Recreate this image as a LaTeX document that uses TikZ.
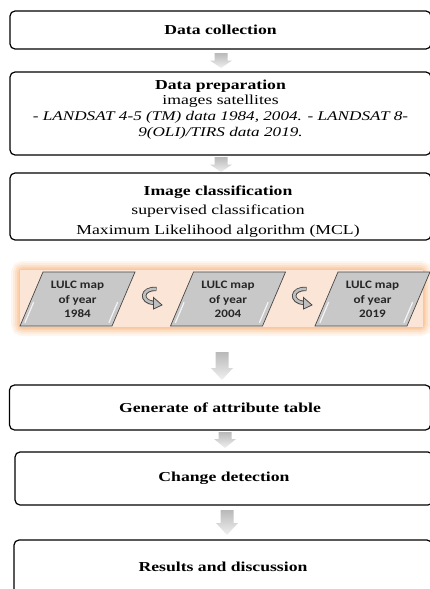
\documentclass[tikz,border=0pt]{standalone}
\usepackage{fontspec}
\setmainfont[FakeStretch=1.29]{Liberation Serif}
\newfontfamily\mapfont[FakeStretch=1.15]{Carlito}
\usepackage{tikz}

\definecolor{panelfill}{RGB}{251,229,214}
\definecolor{glow}{RGB}{247,150,70}
\definecolor{mapgray}{RGB}{200,200,200}
\definecolor{mapedge}{RGB}{70,70,70}

\tikzset{
  stepbox/.style={draw, line width=1.2pt, rounded corners=5pt, inner sep=0pt,
    minimum width=421pt, font=\fontsize{13.7}{15.5}\selectfont\bfseries},
  steptext/.style={align=center, inner sep=0pt, anchor=base},
  maptext/.style={align=center, inner sep=0pt, text=black!85,
    font=\mapfont\fontsize{11.4}{14.6}\selectfont\bfseries},
}

% grey block arrow: x, top, start of head, tip
\newcommand{\blockarrow}[4]{%
  \shade[top color=gray!55, bottom color=gray!12]
    (#1-6.5,#2) -- (#1+6.5,#2) -- (#1+6.5,#3) -- (#1+11,#3) -- (#1,#4)
    -- (#1-11,#3) -- (#1-6.5,#3) -- cycle;}

\begin{document}
\begin{tikzpicture}[x=1pt, y=-1pt]
  \useasboundingbox (0,0) rectangle (430,589);
  \clip (0,0) rectangle (430,589);

  % Data collection
  \node[stepbox, minimum height=38pt] (collect) at (220.5,30) {Data collection};
  \blockarrow{221}{53}{60.5}{68}

  % Data preparation
  \node[stepbox, minimum height=83pt] (prep) at (220.5,113.5) {};
  \node[steptext, font=\fontsize{13.7}{15.6}\selectfont] (preptext) at (220.5,136)
    {\textbf{Data preparation}\\ images satellites\\
     {\fontsize{13.3}{15.6}\selectfont\itshape - LANDSAT 4-5 (TM) data 1984, 2004. - LANDSAT 8-}\\
     {\fontsize{13.3}{15.6}\selectfont\itshape 9(OLI)/TIRS data 2019.}};
  \blockarrow{221}{157}{164.5}{172}

  % Image classification
  \node[stepbox, minimum height=67pt] (classif) at (220.5,206.5) {};
  \node[steptext, font=\fontsize{13.7}{19.5}\selectfont] (classiftext) at (218,234)
    {\textbf{Image classification}\\ supervised classification\\
     Maximum Likelihood algorithm (MCL)};

  % LULC maps
  \foreach \w/\o in {18/0.09, 14/0.11, 10/0.14, 6/0.17, 3/0.2}
    \draw[glow, line width=\w pt, opacity=\o, rounded corners=3pt] (20,270) rectangle (423,327);
  \fill[panelfill] (20,270) rectangle (423,327);
  \foreach \cx/\yr [count=\i] in {77.5/1984, 228/2004, 372.5/2019} {
    \begin{scope}[shift={(\cx,299)}]
      \filldraw[fill=mapgray, draw=mapedge, line width=0.7pt]
        (-57.5,27) -- (34.5,27) -- (57.5,-27) -- (-34.5,-27) -- cycle;
      \draw[white, line width=1.2pt, line cap=round, opacity=0.8] (-52.5,23.5) -- (-44,3.5);
      \draw[white, line width=1.2pt, line cap=round, opacity=0.8] (31.5,23.5) -- (40,3.5);
      \node[maptext] (map\i) at (0,0.5) {LULC map\\of year\\\yr};
    \end{scope}
  }
  \foreach \cx [count=\i] in {152,302} {
    \begin{scope}[shift={(\cx,297)}]
      \draw[mapedge, line width=4.4pt] (4.5,-8) .. controls (-11,-9) and (-12,5) .. (2,6);
      \draw[gray!50, line width=2.6pt] (4,-8) .. controls (-11,-9) and (-12,5) .. (2.5,6);
      \filldraw[fill=gray!50, draw=mapedge, line width=0.8pt] (1.5,0.5) -- (10,8) -- (1.5,12) -- cycle;
    \end{scope}
  }
  \blockarrow{222}{352}{368}{380}

  % Generate of attribute table
  \node[stepbox, minimum height=45pt] (attrib) at (220,407.5) {Generate of attribute table};
  \blockarrow{225}{432}{439}{448}

  % Change detection
  \node[stepbox, minimum height=53pt, minimum width=418pt] (change) at (224,478.5) {Change detection};
  \blockarrow{227}{510}{523}{535}

  % Results and discussion
  \node[stepbox, minimum height=54pt, minimum width=418pt] (results) at (223,567) {Results and discussion};
\end{tikzpicture}
\end{document}
